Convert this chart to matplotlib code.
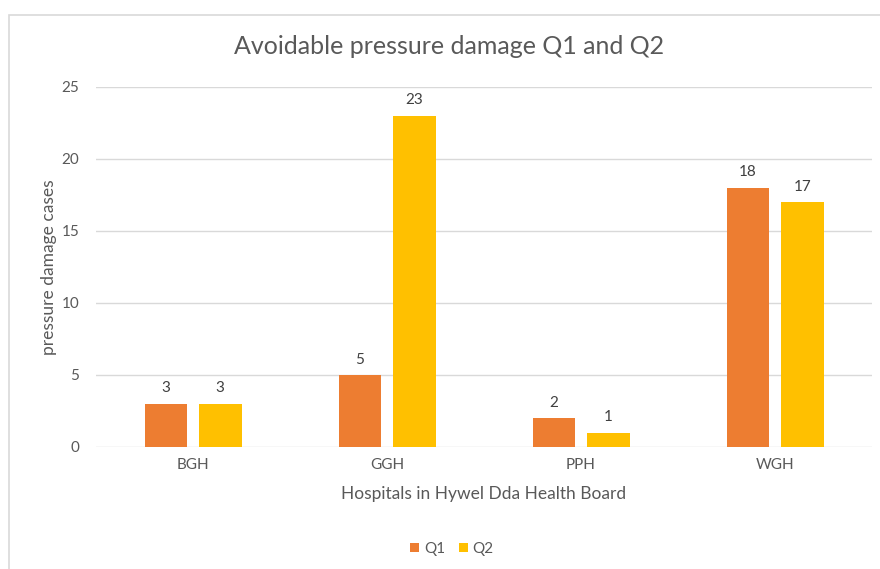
import matplotlib
matplotlib.use("Agg")
import matplotlib.pyplot as plt
import numpy as np
from matplotlib.patches import Rectangle

categories = ["BGH", "GGH", "PPH", "WGH"]
q1 = [3, 5, 2, 18]
q2 = [3, 23, 1, 17]
series_names = ["Q1", "Q2"]
yticks = [0, 5, 10, 15, 20, 25]

W, H = 880, 569
fig = plt.figure(figsize=(W / 100, H / 100), dpi=100)
plt.rcParams['font.family'] = ['Lato', 'DejaVu Sans']

# chart frame
fig.patches.append(Rectangle((9 / W, -0.1), 2, 1 - 15 / H + 0.1, transform=fig.transFigure,
                             fill=False, edgecolor="#d9d9d9", linewidth=1.2))

ax = fig.add_axes([96 / W, 1 - 447 / H, (872 - 96) / W, (447 - 87) / H])
x = np.arange(len(categories))
bw = 0.22
gap = 0.06
off = (bw + gap) / 2
c1, c2 = "#ED7D31", "#FFC000"
b1 = ax.bar(x - off, q1, bw, color=c1, label=series_names[0], zorder=3)
b2 = ax.bar(x + off, q2, bw, color=c2, label=series_names[1], zorder=3)
for bars in (b1, b2):
    for r in bars:
        ax.annotate(f"{int(r.get_height())}", (r.get_x() + r.get_width() / 2, r.get_height()),
                    xytext=(0, 6), textcoords="offset points", ha="center", va="bottom",
                    fontsize=11, color="#404040")

ax.set_xlim(-0.5, len(categories) - 0.5)
ax.set_ylim(0, 25)
ax.set_yticks(yticks)
ax.set_xticks(x)
ax.set_xticklabels(categories)
ax.grid(axis="y", color="#d9d9d9", linewidth=1, zorder=0)
for s in ax.spines.values():
    s.set_visible(False)
ax.tick_params(length=0, labelsize=11, colors="#595959")
ax.tick_params(axis="y", pad=12)
ax.tick_params(axis="x", pad=8)

ax.set_xlabel("Hospitals in Hywel Dda Health Board", fontsize=12.5, color="#595959", labelpad=10)
ax.set_ylabel("pressure damage cases", fontsize=12.5, color="#595959", labelpad=3)
fig.text(449 / W, 1 - 47 / H, "Avoidable pressure damage Q1 and Q2", ha="center", va="center",
         fontsize=18, color="#595959")

fig.legend(handles=[b1, b2], labels=series_names, loc="center", bbox_to_anchor=(452 / W, 1 - 549 / H),
           ncol=2, frameon=False, fontsize=11, handlelength=0.6, handleheight=0.6,
           handletextpad=0.3, columnspacing=0.9, labelcolor="#595959")

fig.savefig("out.png", dpi=100)
